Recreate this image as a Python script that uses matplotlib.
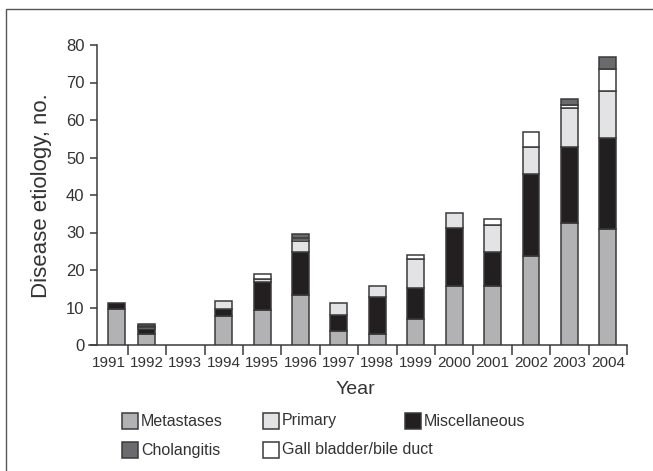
import numpy as np
import matplotlib
matplotlib.use("Agg")
import matplotlib.pyplot as plt
from matplotlib.patches import Rectangle

years = ["1991", "1992", "1993", "1994", "1995", "1996", "1997",
         "1998", "1999", "2000", "2001", "2002", "2003", "2004"]
metastases = [9.5, 2.9, 0, 7.7, 9.3, 13.3, 3.7, 2.9, 6.9, 15.7, 15.7, 23.7, 32.6, 31.0]
miscellaneous = [1.8, 1.4, 0, 1.8, 7.6, 11.6, 4.3, 9.8, 8.2, 15.6, 9.1, 21.9, 20.3, 24.3]
primary = [0, 0.4, 0, 2.3, 0.6, 2.9, 3.1, 3.1, 7.9, 3.9, 7.2, 7.1, 10.3, 12.5]
gall_bladder = [0, 0.4, 0, 0, 1.4, 0.6, 0, 0, 0.9, 0, 1.5, 4.2, 0.9, 5.7]
cholangitis = [0, 0.5, 0, 0, 0, 1.1, 0, 0, 0, 0, 0, 0, 1.6, 3.2]

series = [
    ("Metastases", metastases, "#b2b2b5"),
    ("Miscellaneous", miscellaneous, "#231f20"),
    ("Primary", primary, "#e3e3e5"),
    ("Gall bladder/bile duct", gall_bladder, "#ffffff"),
    ("Cholangitis", cholangitis, "#6a6b6e"),
]

plt.rcParams['font.family'] = ['Liberation Sans', 'DejaVu Sans']
TXT = "#333333"
EDGE = "#3a3a3a"

W, H = 653, 471
fig = plt.figure(figsize=(W / 100, H / 100), dpi=100)

def fx(px):
    return px / W

def fy(py):
    return 1 - py / H

ax = fig.add_axes([fx(89.3), fy(345), fx(627) - fx(89.3), fy(45) - fy(345)])

x = np.arange(len(years), dtype=float)
xpos = x.copy()
xpos[0] += 0.2
bottom = np.zeros(len(years))
for name, vals, col in series:
    v = np.array(vals, dtype=float)
    lw = np.where(v > 0, 1.1, 0.0)
    ax.bar(xpos, v, bottom=bottom, width=0.44, color=col, edgecolor=EDGE,
           linewidth=lw, zorder=3)
    bottom += v

ax.set_xlim(-0.5, len(years) - 0.5)
ax.set_ylim(0, 80)
for s in ["top", "right"]:
    ax.spines[s].set_visible(False)
ax.spines["left"].set_position(("data", -0.3))
ax.spines["left"].set_color(EDGE)
ax.spines["bottom"].set_color(EDGE)
ax.spines["left"].set_linewidth(1.1)
ax.spines["bottom"].set_linewidth(1.1)

ax.set_yticks(np.arange(0, 81, 10))
ax.tick_params(axis="y", direction="out", length=5, width=1.1, color=EDGE,
               labelsize=12, labelcolor=TXT, pad=4)
ax.set_xticks(x)
ax.set_xticklabels(years)
ax.set_xticks(np.arange(0.5, len(years), 1.0), minor=True)
ax.tick_params(axis="x", which="major", length=0, labelsize=11, labelcolor=TXT, pad=8)
ax.tick_params(axis="x", which="minor", direction="out", length=7, width=1.1, color=EDGE)

fig.text(fx(42), fy(196), "Disease etiology, no.", rotation=90, ha="center",
         va="center", fontsize=16, color=TXT)
fig.text(fx(355), fy(390), "Year", ha="center", va="center", fontsize=14, color=TXT)

# frame around the figure
fig.add_artist(Rectangle((fx(6), fy(480)), 1.2, fy(9) - fy(480), transform=fig.transFigure,
                         fill=False, edgecolor="#555555", linewidth=1.0))

legend_items = [
    ("Metastases", "#b2b2b5", 122, 421),
    ("Primary", "#e3e3e5", 263, 421),
    ("Miscellaneous", "#231f20", 405, 421),
    ("Cholangitis", "#6a6b6e", 122, 450),
    ("Gall bladder/bile duct", "#ffffff", 263, 450),
]
for label, col, px, py in legend_items:
    fig.add_artist(Rectangle((fx(px), fy(py + 8)), fx(px + 16) - fx(px), fy(py - 8) - fy(py + 8),
                             transform=fig.transFigure, facecolor=col, edgecolor=EDGE,
                             linewidth=1.1))
    fig.text(fx(px + 19), fy(py), label, ha="left", va="center", fontsize=11.5, color=TXT)

fig.savefig("out.png", dpi=100)
